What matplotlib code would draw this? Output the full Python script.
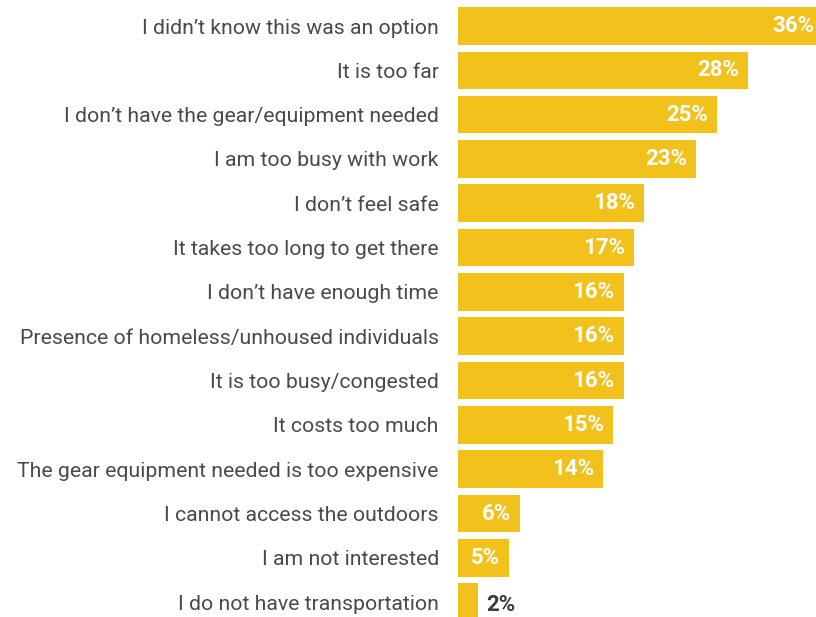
import matplotlib.pyplot as plt
import numpy as np

reasons = [
    "I didn\u2019t know this was an option",
    "It is too far",
    "I don\u2019t have the gear/equipment needed",
    "I am too busy with work",
    "I don\u2019t feel safe",
    "It takes too long to get there",
    "I don\u2019t have enough time",
    "Presence of homeless/unhoused individuals",
    "It is too busy/congested",
    "It costs too much",
    "The gear equipment needed is too expensive",
    "I cannot access the outdoors",
    "I am not interested",
    "I do not have transportation",
]
shares = [36, 28, 25, 23, 18, 17, 16, 16, 16, 15, 14, 6, 5, 2]

GOLD = "#F2C11C"
GREY = "#4a4a4a"
DARK = "#3a3a3a"
FONT = ["Roboto", "DejaVu Sans"]

W, H = 816, 617
fig = plt.figure(figsize=(W / 100, H / 100), dpi=100)
left = 457.5 / W
ax = fig.add_axes([left, 0, 1 - left, 1])

y = np.arange(len(reasons))
ax.barh(y, shares, height=0.85, color=GOLD)

# the longest bar runs off the right edge in the original
xmax = 34.54
ax.set_xlim(0, xmax)
ax.set_ylim(len(reasons) - 1 + 0.334, -0.587)

ax.set_yticks(y)
ax.set_yticklabels(reasons, fontsize=15.3, color=GREY, family=FONT)
ax.tick_params(axis="y", length=0, pad=13.5)
ax.set_xticks([])
for s in ax.spines.values():
    s.set_visible(False)

px = xmax / (W * (1 - left))  # data units per pixel
for yi, v in zip(y, shares):
    txt = f"{v}%"
    if v >= 5:
        x = min(v - 9 * px, xmax - 2 * px)
        ax.text(x, yi, txt, ha="right", va="center", color="white",
                fontsize=16, fontweight="bold", family=FONT)
    else:
        ax.text(v + 8 * px, yi + 0.06, txt, ha="left", va="center", color=DARK,
                fontsize=16, fontweight="bold", family=FONT)

fig.savefig("out.png", dpi=100)
